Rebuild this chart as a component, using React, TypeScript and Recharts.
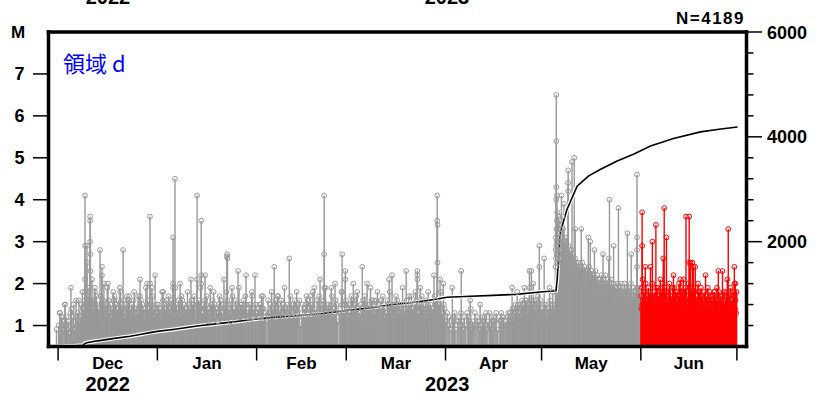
import React from "react"
import {
  ComposedChart,
  Scatter,
  Line,
  XAxis,
  YAxis,
  ErrorBar,
  ReferenceLine,
} from "recharts"

// day 0 = 2022-11-28 00:00, the left edge of the plot
const monthStarts = [3, 34, 65, 93, 124, 154, 185, 215] // Dec 1 ... Jul 1
const monthNames = ["Dec", "Jan", "Feb", "Mar", "Apr", "May", "Jun"]
const yearNames = ["2022", "2023"]
const magTicks = [1, 2, 3, 4, 5, 6, 7]
const countTicks = [0, 400, 800, 1200, 1600, 2000, 2400, 2800, 3200, 3600, 4000, 4400, 4800, 5200, 5600, 6000]
const countLabels = [2000, 4000, 6000]
const RED_FROM = 185 // Jun 1: latest month drawn in red
const T_END = 218
const M_MIN = 0.5
const M_MAX = 8

// small events, one string per day, magnitudes x10
const nov = ["", "", "9"]
const dec = [
  "10 13 8", "12 9 11", "15 10 12 9", "11 8 13", "14 10 12 15", "9 12 10", "13 11 16 10 12",
  "12 15 10 18 14 11", "14 16 12 13 15 11", "13 15 17 12 19 14 16", "15 12 16 14 13", "14 16 13 18 15 12 17",
  "12 15 13 14 11", "13 17 11 15 12 14", "16 13 14 12 15", "14 12 19 15 13 16 11", "13 15 12 14",
  "12 14 16 13 17 11 15", "15 13 12 14 16", "13 12 18 14 11 15", "14 16 12 13", "12 15 13 17 14 11 16",
  "13 11 14 12 15", "15 13 12 16 18 14", "12 14 13 11", "14 12 15 17 13 16", "13 15 12 14 11",
  "12 14 19 13 15 16", "14 12 13 11 15", "13 15 17 14 12", "12 14 11 13 15",
]
const jan = [
  "13 15 12 14 11", "14 12 18 16 13", "12 15 13 11 14 16", "15 13 17 14 12", "13 16 12 15 14",
  "12 14 11 19 13 15", "14 13 16 12", "15 12 14 17 13 16 11", "13 15 12 14", "12 14 18 15 13 11",
  "14 12 13 16 15", "13 15 17 14 12", "12 13 15 11 14 16", "15 14 19 12 13", "13 12 15 14 16",
  "12 15 17 13 14 11", "14 13 12 15", "13 16 14 18 12 15", "12 14 13 11", "15 13 17 14 16 12",
  "13 12 15 14", "14 15 13 18 12 16", "12 14 13 15 11", "13 15 17 12 14", "14 12 16 13 15",
  "13 14 19 12 15", "12 15 13 14 16", "14 13 17 15 12", "13 12 14 15 11", "15 13 18 12 14", "12 14 15 13",
]
const feb = [
  "13 14 12 15", "12 15 13 17 14 11", "14 12 13", "11 13", "13 15 12 18 14", "12 14 13 15 16",
  "14 13 17 12 15", "13 12 14 16 13", "12 15 13 19 14", "14 13 15 12 11", "13 14 17 12 15",
  "12 13 15 14 16", "14 12 18 13 15", "12 10", "13 15 12 14", "14 12 15 17 13 16", "13 14 12 15",
  "12 15 14 18 13 11", "14 13 12 16", "13 12 17 15 14", "15 13 14 12 16", "12 14 19 13 15",
  "14 12 15 13 11", "13 15 17 12 14", "12 14 13 16 15", "11 13", "14 13 18 15 12", "13 12 14 15 16",
]
const mar = [
  "14 12 15 13", "13 15 12 17 14 16", "12 14 13 15", "15 13 18 14 12 11", "13 12 15 14",
  "14 16 12 13 17 15", "12 13 15 14", "13 15 14 19 12 16", "14 12 13 15", "12 14 16 13 18 15",
  "15 13 12 14", "13 14 17 15 12 11", "14 12 13 16", "12 15 14 18 13 15", "13 12 14 15",
  "15 14 12 17 13 16", "12 13 15 14", "14 15 13 19 12 15", "13 12 14 16", "12 14 15 17 13 11",
  "15 13 14 12", "13 15 12 18 14 16", "14 12 13 15", "12 14 15 17 13 14", "15 13 12 16",
  "13 14 15 18 12 14", "12 15 13 14", "14 13 12 17 15 16", "13 12 14 15", "15 14 18 13 12", "12 13 15 14 11",
]
const apr = [
  "11 13 10", "12 9", "10 12 11 13", "9 11", "12 10 13", "11 9 12", "10 13", "12 11 9 14",
  "9 11 10", "13 10 12", "11 9", "10 12 11", "12 10 13 9", "11 13", "10 12 9 11", "12 11 13",
  "9 12", "11 13 10 12", "12 10 11", "10 12 13 11", "13 11 12 14", "12 14 11 13 15",
  "14 12 15 13", "13 15 12 14 16", "15 13 14 12 16", "14 16 13 15", "13 15 14 16 12",
  "15 14 16 13", "14 16 13 15 17", "15 13 16 14",
]
const may = [
  "12 14 11 13 15", "13 15 12 14", "11 14 12 16 13", "14 12 15 13",
  "13 12 14 11 15 24 28 31 26 29 33 27 30 35 25 28 32",
  "28 33 25 30 36 27 31 29 34 26 30 28 32 27 35 29 31 26 33 28",
  "27 30 25 32 28 26 31 24 29 27 33 25 28 30 26 29",
  "26 29 24 30 27 28 25 29 26 31 27 28 24 27",
  "25 27 23 26 29 24 25 28 24 26 23 27",
  "24 26 22 25 28 22 24 27 23 25",
  "22 25 20 24 26 21 23 25 22 24", "21 24 20 23 25 22 24 21 23", "22 20 24 21 23 25 20 22",
  "20 23 21 24 22 19 23 21", "21 19 23 20 22 24 20", "20 22 19 21 23 20 22", "19 22 20 21 18 23 20",
  "20 18 22 19 21 20", "19 21 18 20 22 19", "18 21 19 20 17 22", "19 17 20 18 21 19",
  "18 20 17 19 21 18", "17 19 18 20 16 19", "19 17 18 20 18", "18 16 19 17 20 18",
  "17 19 16 18 20", "18 16 19 17 18", "17 19 18 16 20", "18 16 17 19 17", "16 18 17 19 18", "17 19 16 18 17",
]
const jun = [
  "17 14 19 15 21 16 18 13", "15 18 14 20 16 13 17", "16 13 19 15 17 14 18", "14 17 15 20 13 16",
  "17 15 18 14 16 19 13", "15 19 14 17 16 13 18", "16 14 18 15 20 17", "14 17 15 19 13 16 18",
  "17 15 14 18 16 20", "15 18 16 14 17 13 19", "16 14 19 15 17 18", "14 16 18 15 13 17 20",
  "17 15 14 19 16 18", "15 17 13 16 18 14 19", "16 18 15 14 17 20", "14 16 19 15 17 13 18",
  "17 14 16 18 15 19", "15 17 14 16 13 18", "16 15 18 14 17 19 13", "14 17 15 16 18 13",
  "15 13 17 14 16 19", "16 14 15 18 13 17", "14 16 13 17 15 18", "15 17 14 16 19 13",
  "16 14 18 15 13 17", "14 15 17 13 16 18", "15 13 16 14 18 17", "16 14 15 17 13 19",
  "14 16 13 15 17 18", "15 17 14 16 13 18",
]

// larger events read one by one: [day, M]
const notable: [number, number][] = [
  [3.6, 1.3], [4.2, 1.2], [5.2, 1.5], [7.0, 1.9], [8.6, 1.6],
  [11.4, 4.1], [11.4, 2.9], [11.4, 2.1], [11.4, 1.8], [12.0, 2.9], [12.0, 2.5],
  [13.0, 3.6], [13.0, 3.5], [13.0, 3.0], [13.1, 2.7], [13.1, 2.3], [13.6, 2.1], [14.5, 1.9],
  [16.1, 2.8], [16.7, 2.4], [16.7, 2.2], [17.3, 2.0], [18.6, 2.0], [20.2, 1.8], [22.3, 1.9],
  [23.3, 2.8], [25.2, 1.7], [28.0, 1.7], [28.6, 2.1], [30.8, 2.0], [31.7, 3.6], [31.7, 2.0],
  [32.3, 1.9], [33.3, 2.2],
  [35.8, 1.8], [38.9, 3.1], [38.9, 2.0], [38.9, 1.9], [39.5, 4.5], [41.1, 2.0], [44.5, 2.1],
  [46.4, 4.1], [46.4, 2.1], [47.7, 3.5], [47.7, 2.2], [47.7, 2.0], [48.9, 2.2], [50.5, 1.9],
  [54.8, 2.1], [55.7, 2.65], [55.8, 2.7], [55.9, 2.6], [57.3, 1.9], [59.2, 2.3], [61.7, 2.2],
  [63.6, 1.7], [64.5, 2.2],
  [67.0, 1.7], [68.6, 1.6], [70.5, 2.4], [71.7, 1.7], [75.2, 2.6], [78.3, 1.6], [81.7, 1.7],
  [83.0, 1.9], [84.8, 2.1], [86.1, 4.1], [86.1, 2.7], [86.1, 1.9], [88.3, 1.9], [89.5, 2.0],
  [91.7, 2.7], [91.7, 1.8], [92.7, 2.3], [92.7, 2.1],
  [95.2, 2.0], [96.1, 1.7], [98.0, 2.4], [99.5, 2.0], [101.7, 1.6], [103.9, 1.6], [106.4, 2.1],
  [107.3, 2.2], [111.7, 2.3], [113.3, 1.7], [115.2, 2.3], [115.2, 2.2], [115.2, 2.1], [116.1, 1.9],
  [120.4, 2.2], [121.4, 4.1], [121.4, 3.5], [121.5, 3.4], [121.5, 2.5], [122.3, 2.1], [123.3, 2.0],
  [126.1, 1.9], [128.9, 2.3], [131.7, 1.6], [134.8, 1.5], [144.8, 1.9], [146.4, 1.8], [148.6, 1.9],
  [150.2, 2.3], [150.2, 1.9], [150.8, 2.3], [151.4, 2.0], [153.3, 2.9], [153.3, 2.4],
  [154.8, 2.6], [156.5, 1.9], [157.5, 1.8],
  [158.6, 6.5], [158.6, 5.4], [158.6, 4.3], [158.6, 4.0], [158.8, 4.1], [158.9, 3.7],
  [160.2, 4.1], [160.5, 3.6], [161.0, 3.9], [162.3, 4.7], [162.3, 4.4], [162.3, 4.2],
  [163.5, 4.9], [164.2, 5.0], [164.5, 3.3], [166.4, 3.3], [168.6, 3.1], [169.2, 3.0],
  [170.5, 2.8], [173.2, 2.7], [175.0, 2.6], [175.2, 4.0], [176.5, 2.9], [178.0, 3.8],
  [180.8, 3.2], [182.0, 2.7], [183.8, 4.6], [183.8, 3.1], [183.8, 2.8], [183.8, 2.4],
  [185.4, 3.7], [185.4, 2.9], [186.4, 2.4], [188.0, 2.4], [188.6, 3.0], [189.7, 3.4], [191.1, 2.1],
  [192.0, 2.6], [192.3, 3.8], [193.0, 3.1], [195.2, 2.2], [197.3, 2.1], [198.3, 2.1], [199.1, 3.6],
  [200.1, 3.6], [200.1, 2.5], [200.5, 2.5], [201.1, 2.5], [201.4, 2.4], [202.0, 2.4], [202.9, 2.0],
  [205.2, 2.2], [207.0, 1.6], [207.9, 1.8], [209.2, 2.3], [210.5, 2.3], [212.0, 2.1], [212.3, 3.3],
  [214.2, 2.4], [214.2, 2.0], [214.2, 1.8], [214.5, 2.0],
]

// cumulative number of events: [day, count]
const cumulativeCounts: [number, number][] = [
  [0, 0], [3, 0], [6, 8], [8.5, 15], [10.8, 25], [11.4, 60], [12.3, 78], [14, 95], [16, 112],
  [20, 150], [25.5, 195], [29, 235], [31.7, 265], [33.9, 288], [39.5, 330], [47, 395], [55, 450],
  [60, 485], [65, 525], [70, 555], [78.6, 590], [85, 625], [92, 680], [100, 735], [107.7, 800],
  [115, 850], [121.4, 905], [124.5, 940], [130, 955], [138.9, 975], [146, 995], [153.6, 1040],
  [158.5, 1065], [158.9, 1300], [159.8, 2170], [161.9, 2610], [165.1, 3058], [168.6, 3250],
  [172.3, 3378], [177.6, 3537], [182.7, 3666], [188, 3826], [195.2, 3967], [203.6, 4094],
  [210, 4150], [215.2, 4189],
]

function dailyEvents(start: number, days: string[]) {
  const out: { t: number; m: number }[] = []
  days.forEach((s, d) => {
    const ms = s.trim() ? s.trim().split(/\s+/).map((v) => Number(v) / 10) : []
    ms.forEach((m, i) => out.push({ t: start + d + (i + 0.5) / ms.length, m }))
  })
  return out
}

const allEvents = [
  ...dailyEvents(0, nov),
  ...dailyEvents(monthStarts[0], dec),
  ...dailyEvents(monthStarts[1], jan),
  ...dailyEvents(monthStarts[2], feb),
  ...dailyEvents(monthStarts[3], mar),
  ...dailyEvents(monthStarts[4], apr),
  ...dailyEvents(monthStarts[5], may),
  ...dailyEvents(monthStarts[6], jun),
  ...notable.map(([t, m]) => ({ t, m })),
]
  .sort((a, b) => a.t - b.t)
  .map((e) => ({ ...e, err: [e.m - M_MIN, 0] }))

const greyEvents = allEvents.filter((e) => e.t < RED_FROM)
const redEvents = allEvents.filter((e) => e.t >= RED_FROM)
const cumulative = cumulativeCounts.map(([t, n]) => ({ t, n }))

const monthMids = monthNames.map((_, i) => (monthStarts[i] + monthStarts[i + 1]) / 2)
const yearPos = [monthMids[0], (monthStarts[1] + monthStarts[7]) / 2]
const xTicks = [...monthStarts, ...monthMids, yearPos[1]]

const font = "'Liberation Sans', Arial, sans-serif"

function TimeTick({ x, y, payload }: any) {
  const v = payload.value
  if (monthStarts.includes(v)) {
    return <line x1={x} x2={x} y1={y} y2={y + 14} stroke="#000" strokeWidth={1.5} />
  }
  const mi = monthMids.indexOf(v)
  const yi = yearPos.indexOf(v)
  return (
    <g fontFamily={font} fontWeight={700} fill="#000" textAnchor="middle">
      {mi >= 0 && (
        <text x={x} y={y + 22.5} fontSize={17}>
          {monthNames[mi]}
        </text>
      )}
      {yi >= 0 && (
        <text x={x} y={y + 44.5} fontSize={20}>
          {yearNames[yi]}
        </text>
      )}
    </g>
  )
}

function MagTick({ x, y, payload }: any) {
  return (
    <g>
      <line x1={x - 15.5} x2={x} y1={y} y2={y} stroke="#000" strokeWidth={1.5} />
      <text x={x - 24} y={y + 6.5} textAnchor="end" fontSize={18} fontFamily={font} fontWeight={700} fill="#000">
        {payload.value}
      </text>
    </g>
  )
}

function CountTick({ x, y, payload }: any) {
  const v = payload.value
  if (v === 0) return null
  const major = countLabels.includes(v)
  return (
    <g>
      <line x1={x} x2={x + (major ? 15.5 : 7)} y1={y} y2={y} stroke="#000" strokeWidth={1.5} />
      {major && (
        <text x={x + 20.5} y={y + 6.5} textAnchor="start" fontSize={18} fontFamily={font} fontWeight={700} fill="#000">
          {v}
        </text>
      )}
    </g>
  )
}

const ring = (color: string) => (p: any) => (
  <circle cx={p.cx} cy={p.cy} r={2.4} fill="none" stroke={color} strokeWidth={1} />
)

const frameLine = { stroke: "#000", strokeWidth: 3.5, strokeLinecap: "square" as const, ifOverflow: "visible" as const }

export default function App() {
  return (
    <div style={{ position: "absolute", left: 0, top: 0, width: 816, height: 394, background: "#fff" }}>
      <ComposedChart width={816} height={394} margin={{ top: 32, right: 9.5, bottom: 0, left: 8.5 }}>
        <XAxis
          dataKey="t"
          type="number"
          domain={[0, T_END]}
          allowDataOverflow
          ticks={xTicks}
          interval={0}
          tick={<TimeTick />}
          tickLine={false}
          axisLine={false}
          tickSize={0}
          tickMargin={0}
          height={47.5}
        />
        <YAxis
          yAxisId="m"
          dataKey="m"
          type="number"
          domain={[M_MIN, M_MAX]}
          allowDataOverflow
          ticks={magTicks}
          interval={0}
          tick={<MagTick />}
          tickLine={false}
          axisLine={false}
          tickSize={0}
          tickMargin={0}
          width={40}
        />
        <YAxis
          yAxisId="n"
          orientation="right"
          type="number"
          domain={[0, 6000]}
          allowDataOverflow
          ticks={countTicks}
          interval={0}
          tick={<CountTick />}
          tickLine={false}
          axisLine={false}
          tickSize={0}
          tickMargin={0}
          width={60}
        />
        <Scatter yAxisId="m" data={greyEvents} dataKey="m" shape={ring("#999")} isAnimationActive={false}>
          <ErrorBar dataKey="err" direction="y" width={0} stroke="#999" strokeWidth={1.4} />
        </Scatter>
        <Scatter yAxisId="m" data={redEvents} dataKey="m" shape={ring("#ff0000")} isAnimationActive={false}>
          <ErrorBar dataKey="err" direction="y" width={0} stroke="#ff0000" strokeWidth={1.4} />
        </Scatter>
        <Line yAxisId="n" data={cumulative} dataKey="n" type="linear" stroke="#fff" strokeWidth={4} dot={false} isAnimationActive={false} />
        <Line yAxisId="n" data={cumulative} dataKey="n" type="linear" stroke="#000" strokeWidth={1.6} dot={false} isAnimationActive={false} />
        {/* plot frame */}
        <ReferenceLine yAxisId="m" y={M_MIN} {...frameLine} />
        <ReferenceLine yAxisId="m" y={M_MAX} {...frameLine} />
        <ReferenceLine yAxisId="m" x={0} {...frameLine} />
        <ReferenceLine yAxisId="m" x={T_END} {...frameLine} />
        <text x={18} y={38} textAnchor="middle" fontSize={17} fontFamily={font} fontWeight={700}>M</text>
        <text x={745} y={24} textAnchor="end" fontSize={17} fontFamily={font} fontWeight={700} letterSpacing={1.5}>N=4189</text>
        <text x={63} y={72} fontSize={22} fontFamily="'Noto Sans CJK JP', sans-serif" fill="#0000ff">領域 d</text>
        <text x={108} y={4} textAnchor="middle" fontSize={20} fontFamily={font} fontWeight={700}>{yearNames[0]}</text>
        <text x={447} y={4} textAnchor="middle" fontSize={20} fontFamily={font} fontWeight={700}>{yearNames[1]}</text>
      </ComposedChart>
    </div>
  )
}
